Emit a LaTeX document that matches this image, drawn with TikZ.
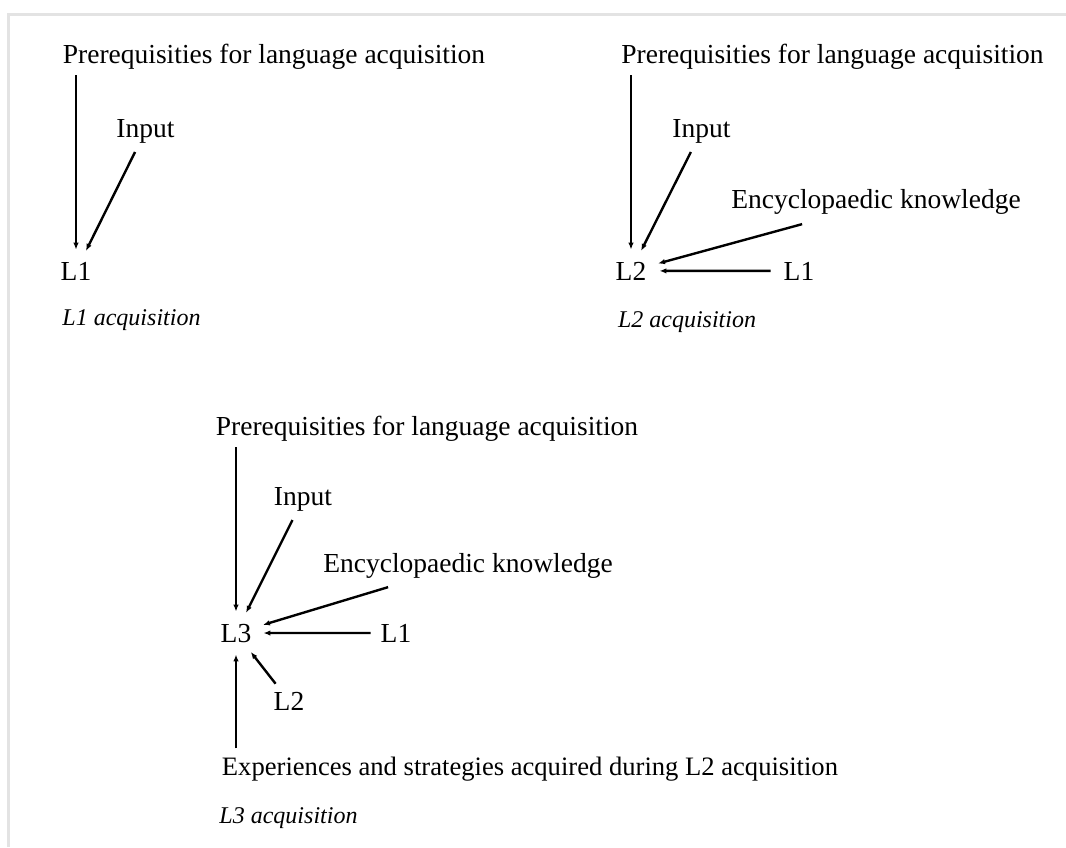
\documentclass[tikz,border=0pt]{standalone}
\usepackage{fontspec}
\setmainfont{Liberation Serif}
\usetikzlibrary{arrows.meta}

\begin{document}
\begin{tikzpicture}[x=1pt, y=-1pt,
        lbl/.style={inner sep=0pt, anchor=base, font=\fontsize{27.5}{33}\selectfont},
        capt/.style={inner sep=0pt, anchor=base, font=\fontsize{24}{29}\selectfont\itshape},
        arr/.style={line width=2.4pt, -{Latex[length=7pt,width=5.5pt]}, shorten <=10pt, shorten >=12pt},
        frame/.style={line width=3.5pt, color=black!11}]
        	% Frame:
        	\useasboundingbox (0,0) rectangle (1066,847);
        	\draw[frame] (8.5,847) -- (8.5,14.5) -- (1066,14.5);
        	% L1 acquisition:
        	\node[lbl](P1) at (274, 63){Prerequisities for language acquisition};
        	\node[lbl](I1) at (145.5, 137){Input};
        	\node[lbl](T1) at (76, 280){L1};
        	\node[capt](C1) at (131.5, 325){L1 acquisition};
        	\draw[arr, shorten <=6pt] (P1.south -| T1.north) -- (T1.north);
        	\draw[arr] (I1) -- (T1);
        	% L2 acquisition:
        	\node[lbl](P2) at (832.5, 63){Prerequisities for language acquisition};
        	\node[lbl](I2) at (701.5, 137){Input};
        	\node[lbl](E2) at (876, 208){Encyclopaedic knowledge};
        	\node[lbl](T2) at (631, 280){L2};
        	\node[lbl](S2) at (799, 280){L1};
        	\node[capt](C2) at (687, 327){L2 acquisition};
        	\draw[arr, shorten <=6pt] (P2.south -| T2.north) -- (T2.north);
        	\draw[arr] (I2) -- (T2);
        	\draw[arr, shorten <=0pt] ([xshift=71pt, yshift=-10pt]E2.south west) -- (T2);
        	\draw[arr, shorten <=13pt, shorten >=13pt] (S2) -- (T2);
        	% L3 acquisition:
        	\node[lbl](P3) at (427, 435){Prerequisities for language acquisition};
        	\node[lbl](I3) at (303, 505){Input};
        	\node[lbl](E3) at (468, 572){Encyclopaedic knowledge};
        	\node[lbl](T3) at (236, 642){L3};
        	\node[lbl](S3) at (396, 642){L1};
        	\node[lbl](R3) at (289, 710){L2};
        	\node[lbl, font=\fontsize{26.6}{32}\selectfont](X3) at (530, 775){Experiences and strategies acquired during L2 acquisition};
        	\node[capt](C3) at (288.5, 823){L3 acquisition};
        	\draw[arr, shorten <=6pt] (P3.south -| T3.north) -- (T3.north);
        	\draw[arr] (I3) -- (T3);
        	\draw[arr, shorten <=0pt] ([xshift=65pt, yshift=-9pt]E3.south west) -- (T3);
        	\draw[arr] (S3) -- (T3);
        	\draw[arr] (R3) -- (T3);
        	\draw[arr, shorten <=8pt] (X3.north -| T3.south) -- (T3.south);
\end{tikzpicture}
\end{document}
